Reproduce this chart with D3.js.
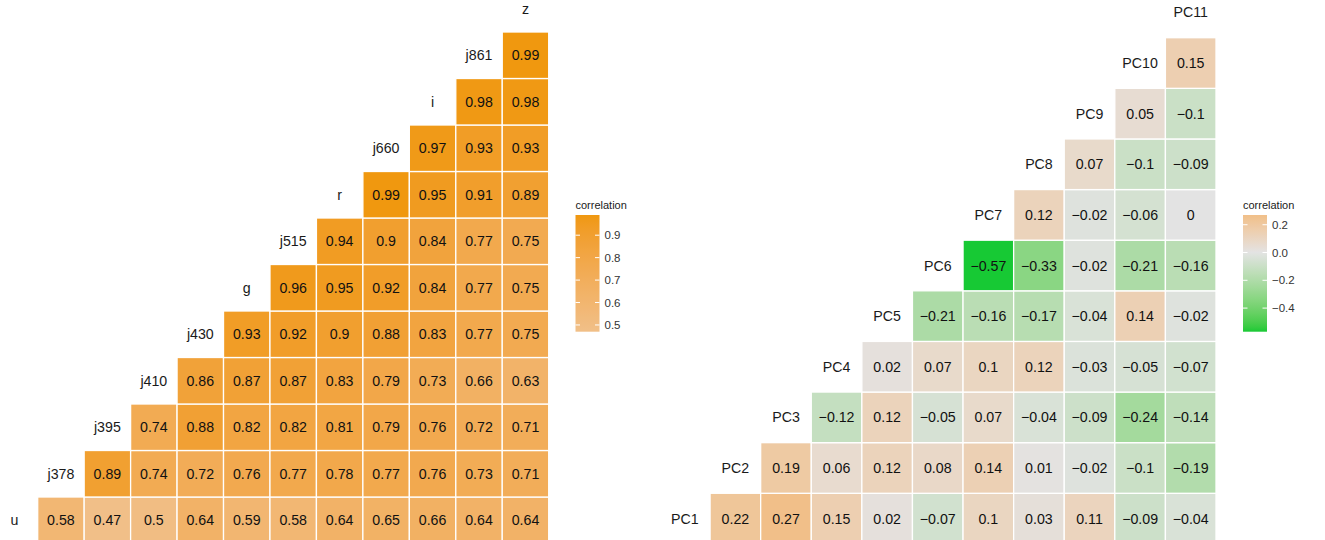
<!DOCTYPE html>
<html>
<head>
<meta charset="utf-8">
<script src="https://cdn.jsdelivr.net/npm/d3@7"></script>
<style>
  html, body { margin: 0; padding: 0; background: #ffffff; }
  svg { display: block; font-family: "Liberation Sans", Arial, Helvetica, sans-serif; }
</style>
</head>
<body>
<svg id="chart" width="1325" height="540"></svg>
<script>
// ---------- data ----------
const leftVars = ["u", "j378", "j395", "j410", "j430", "g", "j515", "r", "j660", "i", "j861", "z"];
// row i holds correlations of leftVars[i] with leftVars[i+1 .. end]
const leftRows = [
  [0.58, 0.47, 0.5, 0.64, 0.59, 0.58, 0.64, 0.65, 0.66, 0.64, 0.64],
  [0.89, 0.74, 0.72, 0.76, 0.77, 0.78, 0.77, 0.76, 0.73, 0.71],
  [0.74, 0.88, 0.82, 0.82, 0.81, 0.79, 0.76, 0.72, 0.71],
  [0.86, 0.87, 0.87, 0.83, 0.79, 0.73, 0.66, 0.63],
  [0.93, 0.92, 0.9, 0.88, 0.83, 0.77, 0.75],
  [0.96, 0.95, 0.92, 0.84, 0.77, 0.75],
  [0.94, 0.9, 0.84, 0.77, 0.75],
  [0.99, 0.95, 0.91, 0.89],
  [0.97, 0.93, 0.93],
  [0.98, 0.98],
  [0.99]
];
const leftTicks = [0.5, 0.6, 0.7, 0.8, 0.9];

const rightVars = ["PC1", "PC2", "PC3", "PC4", "PC5", "PC6", "PC7", "PC8", "PC9", "PC10", "PC11"];
const rightRows = [
  [0.22, 0.27, 0.15, 0.02, -0.07, 0.1, 0.03, 0.11, -0.09, -0.04],
  [0.19, 0.06, 0.12, 0.08, 0.14, 0.01, -0.02, -0.1, -0.19],
  [-0.12, 0.12, -0.05, 0.07, -0.04, -0.09, -0.24, -0.14],
  [0.02, 0.07, 0.1, 0.12, -0.03, -0.05, -0.07],
  [-0.21, -0.16, -0.17, -0.04, 0.14, -0.02],
  [-0.57, -0.33, -0.02, -0.21, -0.16],
  [0.12, -0.02, -0.06, 0],
  [0.07, -0.1, -0.09],
  [0.05, -0.1],
  [0.15]
];
const rightTicks = [0.2, 0.0, -0.2, -0.4];

// ---------- styling ----------
const LOW = "#17c934", MID = "#e3e3e3", HIGH = "#f0980f";
const svg = d3.select("#chart");
const fmtCell = v => String(v).replace("-", "\u2212");

function colorFor(lo, hi) {
  const m = Math.max(Math.abs(lo), Math.abs(hi));
  const a = d3.interpolateLab(LOW, MID), b = d3.interpolateLab(MID, HIGH);
  return v => {
    const t = 0.5 + v / (2 * m);
    return t >= 0.5 ? b((t - 0.5) * 2) : a(t * 2);
  };
}

function drawCorr(vars, rows, ticks, tickFmt, xr, yr, legendX, fontSize) {
  const x = d3.scaleBand().domain(vars).range(xr).padding(0);
  const y = d3.scaleBand().domain(vars.slice().reverse()).range(yr).padding(0);
  const cells = [];
  rows.forEach((r, i) => r.forEach((v, k) => cells.push({a: vars[i], b: vars[i + k + 1], v})));
  const all = cells.map(d => d.v);
  const lo = d3.min(all), hi = d3.max(all);
  const col = colorFor(lo, hi);
  const g = svg.append("g");

  g.selectAll("rect.cell").data(cells).join("rect")
    .attr("x", d => x(d.b)).attr("y", d => y(d.a))
    .attr("width", x.bandwidth()).attr("height", y.bandwidth())
    .attr("fill", d => col(d.v))
    .attr("stroke", "#ffffff").attr("stroke-width", 1.3);

  g.selectAll("text.val").data(cells).join("text")
    .attr("x", d => x(d.b) + x.bandwidth() / 2)
    .attr("y", d => y(d.a) + y.bandwidth() / 2)
    .attr("text-anchor", "middle").attr("dominant-baseline", "central")
    .attr("font-size", fontSize).attr("fill", "#111")
    .text(d => fmtCell(d.v));

  g.selectAll("text.lab").data(vars).join("text")
    .attr("x", d => x(d) + x.bandwidth() / 2)
    .attr("y", d => y(d) + y.bandwidth() / 2)
    .attr("text-anchor", "middle").attr("dominant-baseline", "central")
    .attr("font-size", fontSize).attr("fill", "#1a1a1a")
    .text(d => d);

  // legend
  const barTop = 215, barBot = 331.7, barW = 24;
  const ly = d3.scaleLinear().domain([lo, hi]).range([barBot, barTop]);
  const gid = "grad" + legendX;
  const grad = svg.append("defs").append("linearGradient").attr("id", gid)
    .attr("x1", 0).attr("y1", 1).attr("x2", 0).attr("y2", 0);
  d3.range(0, 1.0001, 0.02).forEach(t => {
    grad.append("stop").attr("offset", t).attr("stop-color", col(lo + t * (hi - lo)));
  });
  const lg = svg.append("g");
  lg.append("text").attr("x", legendX).attr("y", 209)
    .attr("font-size", 11).attr("fill", "#1a1a1a").text("correlation");
  lg.append("rect").attr("x", legendX).attr("y", barTop)
    .attr("width", barW).attr("height", barBot - barTop).attr("fill", `url(#${gid})`);
  ticks.forEach(t => {
    const yy = ly(t);
    lg.append("line").attr("x1", legendX).attr("x2", legendX + 4.5).attr("y1", yy).attr("y2", yy)
      .attr("stroke", "#fff").attr("stroke-width", 1);
    lg.append("line").attr("x1", legendX + barW - 4.5).attr("x2", legendX + barW).attr("y1", yy).attr("y2", yy)
      .attr("stroke", "#fff").attr("stroke-width", 1);
    lg.append("text").attr("x", legendX + barW + 5).attr("y", yy)
      .attr("dominant-baseline", "central").attr("font-size", 11.5).attr("fill", "#333")
      .text(tickFmt(t));
  });
}

drawCorr(leftVars, leftRows, leftTicks, d => d3.format(".1f")(d),
  [-8.75, 548.7], [-14.5, 543.5], 575.5, 14.2);
drawCorr(rightVars, rightRows, rightTicks, d => d3.format(".1f")(d).replace("-", "\u2212"),
  [659.5, 1216], [-12.9, 543.9], 1243, 14.2);
</script>
</body>
</html>
